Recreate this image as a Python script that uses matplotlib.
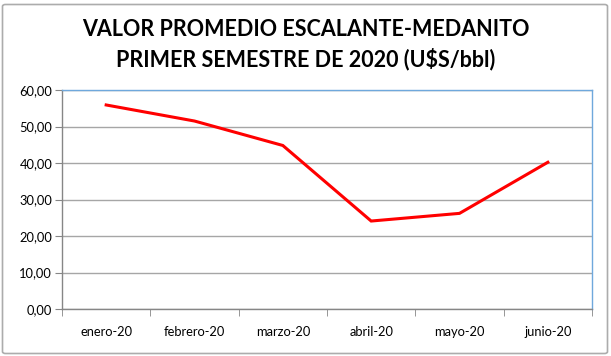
import matplotlib.pyplot as plt
from matplotlib.patches import FancyBboxPatch
from matplotlib.ticker import FuncFormatter

meses = ["enero-20", "febrero-20", "marzo-20", "abril-20", "mayo-20", "junio-20"]
valores = [55.9, 51.5, 44.8, 24.1, 26.2, 40.2]
titulo = "VALOR PROMEDIO ESCALANTE-MEDANITO\nPRIMER SEMESTRE DE 2020 (U$S/bbl)"

W, H = 611, 356
fig = plt.figure(figsize=(W / 100, H / 100), dpi=100)

# outer chart frame
frame = FancyBboxPatch((2.5 / W, 2.5 / H), 605 / W, 349 / H,
                       boxstyle="round,pad=0,rounding_size=0.005",
                       transform=fig.transFigure, fill=False,
                       edgecolor="#ACACAC", linewidth=1.2)
fig.patches.append(frame)

# plot area: x 62..592, y 90..309 (px from top)
ax = fig.add_axes([62 / W, 1 - 309 / H, 530 / W, 219 / H])

x = list(range(len(meses)))
ax.plot(x, valores, color="#FF0000", linewidth=2.2, solid_joinstyle="miter")

ax.set_xlim(-0.5, len(meses) - 0.5)
ax.set_ylim(0, 60)
ax.set_yticks(range(0, 61, 10))
ax.yaxis.set_major_formatter(FuncFormatter(lambda v, p: f"{v:.2f}".replace(".", ",")))
ax.set_xticks(x)
ax.set_xticklabels(meses)
ax.set_xticks([i - 0.5 for i in range(len(meses) + 1)], minor=True)

ax.grid(axis="y", color="#A6A6A6", linewidth=1.0)
ax.set_axisbelow(True)

for s in ("top", "right"):
    ax.spines[s].set_color("#6FA8DC")
    ax.spines[s].set_linewidth(1.0)
for s in ("left", "bottom"):
    ax.spines[s].set_color("#868686")
    ax.spines[s].set_linewidth(1.0)

ax.tick_params(axis="y", which="major", length=5, color="#868686",
               labelsize=9.3, pad=2)
ax.tick_params(axis="x", which="major", length=0, labelsize=9.3, pad=12)
ax.tick_params(axis="x", which="minor", length=5, color="#868686")
for lab in ax.get_xticklabels() + ax.get_yticklabels():
    lab.set_fontfamily("Lato")

fig.text(0.5, 1 - 45 / H, titulo, ha="center", va="center",
         fontsize=15.5, fontweight="bold", fontfamily="Lato",
         linespacing=1.4)

fig.savefig("out.png", dpi=100)
